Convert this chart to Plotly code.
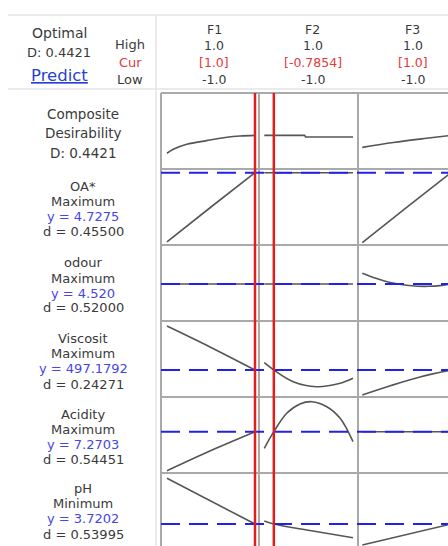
import plotly.graph_objects as go

W, H = 448, 546

# ---------------- data ----------------
factors = ["F1", "F2", "F3"]
factor_high = ["1.0", "1.0", "1.0"]
factor_cur = [1.0, -0.7854, 1.0]
factor_cur_text = ["[1.0]", "[-0.7854]", "[1.0]"]
factor_low = ["-1.0", "-1.0", "-1.0"]

responses = ["Composite", "OA*", "odour", "Viscosit", "Acidity", "pH"]
goals = ["Desirability", "Maximum", "Maximum", "Maximum", "Maximum", "Minimum"]
y_optimal = [0.4421, 4.7275, 4.520, 497.1792, 7.2703, 3.7202]
y_labels = ["D: 0.4421", "y = 4.7275", "y = 4.520", "y = 497.1792", "y = 7.2703", "y = 3.7202"]
d_labels = ["", "d = 0.45500", "d = 0.52000", "d = 0.24271", "d = 0.54451", "d = 0.53995"]
y_ranges = [[0, 1], [2.92, 4.82], [4.15, 4.91], [362.18, 742.18], [5.205, 9.005], [3.5002, 4.2302]]

# response curves: (factor levels, predicted response)
composite_F1 = ([-1, -0.857, -0.55, -0.1, 0.36, 0.66, 1.0], [0.207, 0.259, 0.325, 0.373, 0.417, 0.434, 0.4421])
composite_F2 = ([-1, -0.09, -0.07, 1.0], [0.4421, 0.4421, 0.421, 0.421])
composite_F3 = ([-1, -0.3, 0.45, 1.0], [0.285, 0.348, 0.404, 0.4421])

oa_F1 = ([-1, 0, 1], [3.0, 3.87, 4.7275])
oa_F2 = ([-1, 1], [4.7275, 4.7275])
oa_F3 = ([-1, 0, 1], [2.98, 3.86, 4.7275])

odour_F1 = ([-1, 1], [4.520, 4.520])
odour_F2 = ([-1, 1], [4.520, 4.520])
odour_F3 = ([-1, -0.75, -0.5, -0.25, 0, 0.25, 0.5, 0.75, 1],
            [4.627, 4.585, 4.551, 4.525, 4.507, 4.498, 4.497, 4.504, 4.520])

visc_F1 = ([-1, 0, 1], [717.0, 610.0, 497.18])
visc_F2 = ([-1, -0.785, -0.35, 0.18, 0.71, 1], [533.7, 497.18, 438.7, 413.7, 430.7, 455.7])
visc_F3 = ([-1, -0.35, 0.3, 1], [372.2, 419.7, 462.2, 497.18])

acid_F1 = ([-1, 0, 1], [5.32, 6.33, 7.2703])
acid_F2 = ([-1, -0.785, -0.495, -0.195, 0.07, 0.41, 0.71, 1],
           [6.44, 7.2703, 8.19, 8.655, 8.77, 8.52, 7.94, 6.77])
acid_F3 = ([-1, 1], [7.2703, 7.2703])

ph_F1 = ([-1, 1], [4.177, 3.7202])
ph_F2 = ([-1, -0.785, 0.03, 1], [3.75, 3.7202, 3.655, 3.583])
ph_F3 = ([-1, 1], [3.51, 3.7202])

curves = [
    [composite_F1, composite_F2, composite_F3],
    [oa_F1, oa_F2, oa_F3],
    [odour_F1, odour_F2, odour_F3],
    [visc_F1, visc_F2, visc_F3],
    [acid_F1, acid_F2, acid_F3],
    [ph_F1, ph_F2, ph_F3],
]

# ---------------- layout geometry (pixels) ----------------
col_px = [(161, 259), (259, 358), (358, 448)]
x_ranges = [[-1.136, 1.091], [-1.1195, 1.1127], [-1.097, 0.932]]
row_px = [(93, 169), (169, 245), (245, 321), (321, 397), (397, 473), (473, 546)]

def px(x):
    return x / W

def py(y):
    return 1 - y / H

TXT = "#3a3a3a"
RED = "#e23a3a"
BLUE = "#4646e6"
FONT = "DejaVu Sans"

fig = go.Figure()
layout = dict(
    width=W, height=H, margin=dict(l=0, r=0, t=0, b=0),
    paper_bgcolor="white", plot_bgcolor="rgba(0,0,0,0)",
    showlegend=False, font=dict(family=FONT, color=TXT),
)

shapes = []
annotations = []

for r in range(6):
    for c in range(3):
        k = r * 3 + c + 1
        xa = "xaxis" if k == 1 else f"xaxis{k}"
        ya = "yaxis" if k == 1 else f"yaxis{k}"
        layout[xa] = dict(domain=[px(col_px[c][0]), px(col_px[c][1])], range=x_ranges[c],
                          visible=False, fixedrange=True, anchor=f"y{k}" if k > 1 else "y")
        layout[ya] = dict(domain=[py(row_px[r][1]), py(row_px[r][0])], range=y_ranges[r],
                          visible=False, fixedrange=True, anchor=f"x{k}" if k > 1 else "x")
        xs, ys = curves[r][c]
        shape = "linear" if (r == 0 and c == 1) or len(xs) <= 2 else "spline"
        fig.add_trace(go.Scatter(
            x=xs, y=ys, mode="lines",
            xaxis=f"x{k}" if k > 1 else "x", yaxis=f"y{k}" if k > 1 else "y",
            line=dict(color="#555555", width=1.6, shape=shape),
            hoverinfo="skip"))

# light separators
light = dict(color="#e4e4e4", width=1.5)
shapes.append(dict(type="line", xref="paper", yref="paper", x0=px(8), x1=1, y0=py(15), y1=py(15), line=light, layer="above"))
shapes.append(dict(type="line", xref="paper", yref="paper", x0=px(8), x1=1, y0=py(89), y1=py(89), line=light, layer="above"))
shapes.append(dict(type="line", xref="paper", yref="paper", x0=px(156), x1=px(156), y0=py(15), y1=0, line=light, layer="above"))

# grid lines
grid = dict(color="#a9a9a9", width=2)
for xg in [161, 259, 358]:
    shapes.append(dict(type="line", xref="paper", yref="paper", x0=px(xg), x1=px(xg), y0=0, y1=py(93), line=grid, layer="above"))
for yg in [93, 169, 245, 321, 397, 473]:
    shapes.append(dict(type="line", xref="paper", yref="paper", x0=px(161), x1=1, y0=py(yg), y1=py(yg), line=grid, layer="above"))

# blue dashed current-response lines
for r in range(1, 6):
    k = r * 3 + 1
    shapes.append(dict(type="line", xref="paper", yref=f"y{k}", x0=px(161), x1=1,
                       y0=y_optimal[r], y1=y_optimal[r],
                       line=dict(color="#2222e6", width=2, dash="19px,9px"), layer="above"))

# red current-setting lines
for c in range(3):
    k = c + 1
    shapes.append(dict(type="line", xref="x" if k == 1 else f"x{k}", yref="paper",
                       x0=factor_cur[c], x1=factor_cur[c], y0=0, y1=py(93),
                       line=dict(color="#e01e1e", width=2.5), layer="above"))

def ann(text, x, y, size=13, color=TXT):
    annotations.append(dict(text=text, x=px(x), y=py(y), xref="paper", yref="paper",
                            xanchor="center", yanchor="middle", showarrow=False,
                            font=dict(family=FONT, size=size, color=color)))

# header
ann("Optimal", 59, 33, 14)
ann("D: 0.4421", 59, 53, 13)
ann("<u>Predict</u>", 59, 76, 16.5, "#2a3fd0")
ann("High", 130, 44, 13)
ann("Cur", 130, 62, 13, RED)
ann("Low", 130, 79, 13)
fx = [214, 312.5, 412.5]
for c in range(3):
    ann(factors[c], fx[c], 29, 12.5)
    ann(factor_high[c], fx[c], 45, 12.5)
    ann(factor_cur_text[c], fx[c], 62, 12.5, RED)
    ann(factor_low[c], fx[c], 79, 12.5)

# left labels
LX = 83
ann(responses[0], LX, 114, 13.5)
ann(goals[0], LX, 133, 13.5)
ann(y_labels[0], LX, 153, 13.5)
label_y = [(186.5, 201, 216.5, 231.5), (262, 278, 293, 307), (338.5, 353, 368, 384),
           (414.5, 429, 444, 459), (488.5, 503.5, 518.5, 534)]
for i, r in enumerate(range(1, 6)):
    a, b, cc, d = label_y[i]
    ann(responses[r], LX, a)
    ann(goals[r], LX, b)
    ann(y_labels[r], LX, cc, 13, BLUE)
    ann(d_labels[r], LX, d)

layout["shapes"] = shapes
layout["annotations"] = annotations
fig.update_layout(**layout)
fig.write_html("out.html", config={"displayModeBar": False, "staticPlot": True},
               post_script="document.body.style.margin='0px';document.body.style.overflow='hidden';")
